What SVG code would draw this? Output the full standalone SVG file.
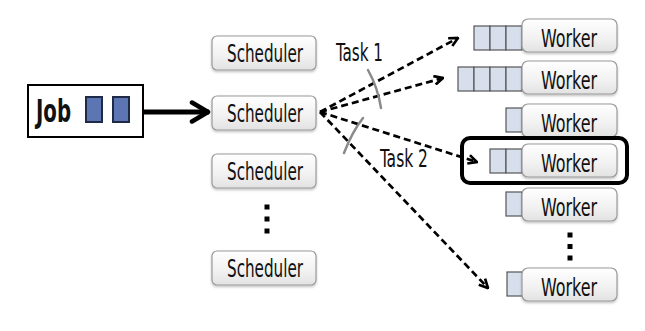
<svg xmlns="http://www.w3.org/2000/svg" width="645" height="331" viewBox="0 0 645 331">
  <defs>
    <linearGradient id="boxFill" x1="0" y1="0" x2="0" y2="1">
      <stop offset="0" stop-color="#ffffff"/>
      <stop offset="0.6" stop-color="#f1f1f1"/>
      <stop offset="1" stop-color="#e2e2e2"/>
    </linearGradient>
    <filter id="shadow" x="-10%" y="-10%" width="120%" height="140%">
      <feDropShadow dx="0" dy="1.5" stdDeviation="1.2" flood-color="#000" flood-opacity="0.25"/>
    </filter>
    <marker id="head" viewBox="0 0 10 10" refX="9" refY="5" markerWidth="11" markerHeight="11" markerUnits="userSpaceOnUse" orient="auto">
      <path d="M1,1 L9,5 L1,9" fill="none" stroke="#000" stroke-width="2.4" stroke-linejoin="miter"/>
    </marker>
    <marker id="bighead" viewBox="0 0 24 24" refX="21" refY="12" markerWidth="24" markerHeight="24" markerUnits="userSpaceOnUse" orient="auto">
      <path d="M4,2.5 L20,12 L4,21.5" fill="none" stroke="#000" stroke-width="4.5" stroke-linecap="round" stroke-linejoin="round"/>
    </marker>
  </defs>
  <style>
    .box { fill: url(#boxFill); stroke: #9a9a9a; stroke-width: 1.2; filter: url(#shadow); }
    .lbl { font-family: "DejaVu Sans Condensed", "DejaVu Sans", "Liberation Sans", sans-serif; font-stretch: condensed; font-size: 25px; fill: #111; }
    .q { fill: #d6dfeb; stroke: #555; stroke-width: 1.2; }
    .jq { fill: #5b76b3; stroke: #1e2a48; stroke-width: 2; }
    .dash { fill: none; stroke: #000; stroke-width: 2.7; stroke-dasharray: 7 4; marker-end: url(#head); }
    .strike { fill: none; stroke: #8a8a8a; stroke-width: 2.5; stroke-linecap: round; }
    .dot { fill: #000; }
  </style>

  <!-- job -->
  <g id="job">
    <rect x="28" y="85" width="115" height="52" fill="#fff" stroke="#000" stroke-width="2"/>
    <text x="36" y="122" class="lbl" font-weight="bold" textLength="35" lengthAdjust="spacingAndGlyphs" style="font-size:32px">Job</text>
    <rect x="86" y="97" width="16" height="25" class="jq"/>
    <rect x="113" y="97" width="16" height="25" class="jq"/>
  </g>

  <!-- schedulers -->
  <g id="scheduler1">
    <rect x="212" y="36" width="104" height="34" rx="5" class="box"/>
    <text x="265" y="62" class="lbl" text-anchor="middle" textLength="76" lengthAdjust="spacingAndGlyphs">Scheduler</text>
  </g>
  <g id="scheduler2">
    <rect x="212" y="96" width="104" height="34" rx="5" class="box"/>
    <text x="265" y="122" class="lbl" text-anchor="middle" textLength="76" lengthAdjust="spacingAndGlyphs">Scheduler</text>
  </g>
  <g id="scheduler3">
    <rect x="212" y="154" width="104" height="34" rx="5" class="box"/>
    <text x="265" y="180" class="lbl" text-anchor="middle" textLength="76" lengthAdjust="spacingAndGlyphs">Scheduler</text>
  </g>
  <g id="scheduler-dots">
    <rect x="264.5" y="204.5" width="5" height="5" class="dot"/>
    <rect x="264.5" y="216.5" width="5" height="5" class="dot"/>
    <rect x="264.5" y="228.5" width="5" height="5" class="dot"/>
  </g>
  <g id="scheduler4">
    <rect x="212" y="251" width="104" height="34" rx="5" class="box"/>
    <text x="265" y="277" class="lbl" text-anchor="middle" textLength="76" lengthAdjust="spacingAndGlyphs">Scheduler</text>
  </g>

  <!-- workers with their queues -->
  <g id="worker1">
    <rect x="474" y="26" width="16" height="24" class="q"/>
    <rect x="490" y="26" width="16" height="24" class="q"/>
    <rect x="506" y="26" width="16" height="24" class="q"/>
    <rect x="522" y="19" width="95" height="33" rx="6" class="box"/>
    <text x="569" y="47" class="lbl" text-anchor="middle" textLength="56" lengthAdjust="spacingAndGlyphs">Worker</text>
  </g>
  <g id="worker2">
    <rect x="458" y="67" width="16" height="24" class="q"/>
    <rect x="474" y="67" width="16" height="24" class="q"/>
    <rect x="490" y="67" width="16" height="24" class="q"/>
    <rect x="506" y="67" width="16" height="24" class="q"/>
    <rect x="522" y="61" width="95" height="33" rx="6" class="box"/>
    <text x="569" y="89" class="lbl" text-anchor="middle" textLength="56" lengthAdjust="spacingAndGlyphs">Worker</text>
  </g>
  <g id="worker3">
    <rect x="506" y="108" width="16" height="24" class="q"/>
    <rect x="522" y="104" width="95" height="33" rx="6" class="box"/>
    <text x="569" y="132" class="lbl" text-anchor="middle" textLength="56" lengthAdjust="spacingAndGlyphs">Worker</text>
  </g>
  <g id="worker4">
    <rect x="462" y="138" width="165" height="45" rx="8" fill="none" stroke="#000" stroke-width="4"/>
    <rect x="490" y="149" width="16" height="24" class="q"/>
    <rect x="506" y="149" width="16" height="24" class="q"/>
    <rect x="522" y="144" width="95" height="33" rx="6" class="box"/>
    <text x="569" y="172" class="lbl" text-anchor="middle" textLength="56" lengthAdjust="spacingAndGlyphs">Worker</text>
  </g>
  <g id="worker5">
    <rect x="506" y="192" width="16" height="24" class="q"/>
    <rect x="522" y="188" width="95" height="33" rx="6" class="box"/>
    <text x="569" y="216" class="lbl" text-anchor="middle" textLength="56" lengthAdjust="spacingAndGlyphs">Worker</text>
  </g>
  <g id="worker-dots">
    <rect x="567.5" y="232.5" width="5" height="5" class="dot"/>
    <rect x="567.5" y="244" width="5" height="5" class="dot"/>
    <rect x="567.5" y="255.5" width="5" height="5" class="dot"/>
  </g>
  <g id="worker6">
    <rect x="507" y="272" width="16" height="24" class="q"/>
    <rect x="522" y="268" width="95" height="33" rx="6" class="box"/>
    <text x="569" y="296" class="lbl" text-anchor="middle" textLength="56" lengthAdjust="spacingAndGlyphs">Worker</text>
  </g>

  <!-- connectors -->
  <g id="connectors">
    <line x1="143" y1="112" x2="209" y2="112" stroke="#000" stroke-width="5" marker-end="url(#bighead)"/>
    <line x1="320" y1="112" x2="458" y2="38" class="dash"/>
    <line x1="320" y1="112" x2="443" y2="78" class="dash"/>
    <line x1="320" y1="112" x2="477" y2="162" class="dash"/>
    <line x1="320" y1="112" x2="488" y2="288" class="dash"/>
    <path d="M368,70 Q378,88 381,108" class="strike"/>
    <path d="M363,118 Q352,132 344,153" class="strike"/>
    <text x="336" y="61" class="lbl" textLength="47" lengthAdjust="spacingAndGlyphs">Task 1</text>
    <text x="380" y="167" class="lbl" textLength="48" lengthAdjust="spacingAndGlyphs">Task 2</text>
  </g>
</svg>
